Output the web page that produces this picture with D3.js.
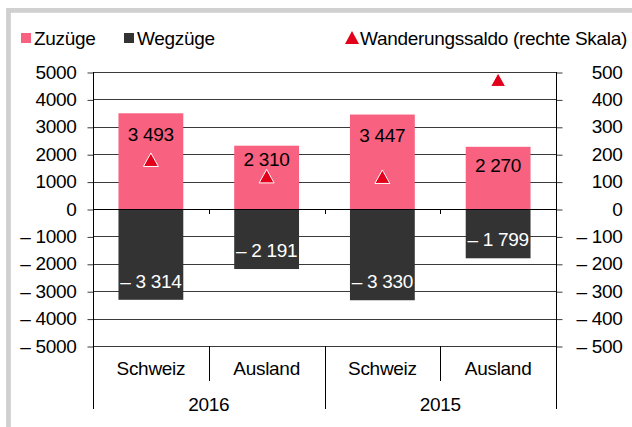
<!DOCTYPE html>
<html><head><meta charset="utf-8">
<script src="https://cdn.jsdelivr.net/npm/d3@7/dist/d3.min.js"></script>
<style>
html,body{margin:0;padding:0;background:#fff;}
svg{display:block;font-family:"Liberation Sans",Arial,sans-serif;}
text{font-size:19px;letter-spacing:-0.3px;fill:#000;}
</style></head>
<body>
<svg id="c" width="632" height="427"></svg>
<script>
// ---- data ----
const categories = ["Schweiz", "Ausland", "Schweiz", "Ausland"];
const years = ["2016", "2015"];
const zuzuege = [3493, 2310, 3447, 2270];
const wegzuege = [-3314, -2191, -3330, -1799];
const saldo = [179, 119, 117, 471];
const leftTicks = [5000, 4000, 3000, 2000, 1000, 0, -1000, -2000, -3000, -4000, -5000];
const rightTicks = [500, 400, 300, 200, 100, 0, -100, -200, -300, -400, -500];
const legendLabels = ["Zuzüge", "Wegzüge", "Wanderungssaldo (rechte Skala)"];

// ---- styles ----
const PINK = "#f8617f", DARK = "#333333", RED = "#e2001a";
const svg = d3.select("#c");
const L = 93, R = 556, T = 72, B = 346;

// frame
svg.append("rect").attr("x", 8.5).attr("y", 10.4).attr("width", 700).attr("height", 500)
  .attr("fill", "none").attr("stroke", "#d0d0d0").attr("stroke-width", 4.8);

const keys = categories.map((c, i) => i);
const x = d3.scaleBand().domain(keys).range([L, R]).paddingInner(0.44).paddingOuter(0.22);
const step = x.step();
const yL = d3.scaleLinear().domain([-5000, 5000]).range([B, T]);
const yR = d3.scaleLinear().domain([-500, 500]).range([B, T]);

const fmtTick = v => (v < 0 ? "\u2013 " : "") + Math.abs(v);
const loc = d3.formatLocale({decimal: ",", thousands: "\u2009", grouping: [3], currency: ["", ""]});
const g3 = loc.format(",d");
const fmtLab = v => (v < 0 ? "\u2013 " : "") + g3(Math.abs(v)).replace("\u2009", " ");

// gridlines
svg.append("g").selectAll("line").data(leftTicks).join("line")
  .attr("x1", L).attr("x2", R)
  .attr("y1", d => Math.round(yL(d)) + 0.5).attr("y2", d => Math.round(yL(d)) + 0.5)
  .attr("stroke", "#3a3a3a").attr("stroke-width", 1);

// bars
const bars = svg.append("g");
bars.selectAll("rect.z").data(zuzuege).join("rect").attr("class", "z")
  .attr("x", (d, i) => x(i)).attr("width", x.bandwidth())
  .attr("y", d => yL(d)).attr("height", d => yL(0) - yL(d)).attr("fill", PINK);
bars.selectAll("rect.w").data(wegzuege).join("rect").attr("class", "w")
  .attr("x", (d, i) => x(i)).attr("width", x.bandwidth())
  .attr("y", yL(0)).attr("height", d => yL(d) - yL(0)).attr("fill", DARK);

// zero line
svg.append("line").attr("x1", L).attr("x2", R)
  .attr("y1", Math.round(yL(0)) + 0.5).attr("y2", Math.round(yL(0)) + 0.5)
  .attr("stroke", "#000").attr("stroke-width", 1);

// ticks on zero line at category boundaries
svg.append("g").selectAll("line").data(d3.range(1, categories.length)).join("line")
  .attr("x1", i => Math.round(L + i * step) + 0.5).attr("x2", i => Math.round(L + i * step) + 0.5)
  .attr("y1", yL(0)).attr("y2", yL(0) + 5).attr("stroke", "#000");

// left axis
const axL = svg.append("g").attr("transform", `translate(${L + 0.5},0)`)
  .call(d3.axisLeft(yL).tickValues(leftTicks).tickFormat(fmtTick).tickSize(6).tickPadding(11));
axL.select(".domain").remove();
axL.selectAll("line").attr("stroke", "#3a3a3a").attr("transform", "translate(0,0.5)");
axL.selectAll("text").attr("font-size", 19).attr("font-family", "Liberation Sans, Arial, sans-serif").attr("fill", "#000");
svg.append("line").attr("x1", L + 0.5).attr("x2", L + 0.5).attr("y1", T).attr("y2", 409).attr("stroke", "#000");

// right axis
const axR = svg.append("g").attr("transform", `translate(${R + 0.5},0)`)
  .call(d3.axisRight(yR).tickValues(rightTicks).tickFormat(fmtTick).tickSize(6).tickPadding(11));
axR.select(".domain").remove();
axR.selectAll("line").attr("stroke", "#3a3a3a").attr("transform", "translate(0,0.5)");
axR.selectAll("text").attr("font-size", 19).attr("font-family", "Liberation Sans, Arial, sans-serif")
  .attr("fill", "#000").attr("text-anchor", "end").attr("x", 66);
svg.append("line").attr("x1", R + 0.5).attr("x2", R + 0.5).attr("y1", T).attr("y2", 409).attr("stroke", "#000");

// category axis at bottom
const bx = svg.append("g");
bx.selectAll("line.c").data(d3.range(1, categories.length)).join("line").attr("class", "c")
  .attr("x1", i => Math.round(L + i * step) + 0.5).attr("x2", i => Math.round(L + i * step) + 0.5)
  .attr("y1", B).attr("y2", i => (i % 2 === 0 ? 409 : 381)).attr("stroke", "#000");
bx.selectAll("text.c").data(categories).join("text").attr("class", "c")
  .attr("x", (d, i) => x(i) + x.bandwidth() / 2).attr("y", 375)
  .attr("text-anchor", "middle").text(d => d);
bx.selectAll("text.y").data(years).join("text").attr("class", "y")
  .attr("x", (d, i) => L + step * (2 * i + 1)).attr("y", 411)
  .attr("text-anchor", "middle").text(d => d);

// data labels (positive labels kept clear of the saldo triangle)
svg.append("g").selectAll("text").data(zuzuege).join("text")
  .attr("x", (d, i) => x(i) + x.bandwidth() / 2)
  .attr("y", (d, i) => {
    const top = yL(d) + 21, ty = yR(saldo[i]);
    return (ty > yL(d) && ty < yL(0)) ? Math.min(top, ty - 17) : top - 3;
  })
  .attr("dy", "0.36em").attr("text-anchor", "middle").text(d => fmtLab(d));
svg.append("g").selectAll("text").data(wegzuege).join("text")
  .attr("x", (d, i) => x(i) + x.bandwidth() / 2).attr("y", d => yL(d) - 19)
  .attr("dy", "0.36em").attr("text-anchor", "middle").style("fill", "#fff").text(d => fmtLab(d));

// triangles
const tri = "M0,-7L7.5,6.5L-7.5,6.5Z";
svg.append("g").selectAll("path").data(saldo).join("path")
  .attr("d", tri)
  .attr("transform", (d, i) => `translate(${x(i) + x.bandwidth() / 2},${yR(d)})`)
  .attr("fill", RED).attr("stroke", "#fff").attr("stroke-width", 1);

// legend
const lg = svg.append("g");
lg.append("rect").attr("x", 21).attr("y", 33).attr("width", 10).attr("height", 10).attr("fill", PINK);
lg.append("text").attr("x", 34).attr("y", 45).text(legendLabels[0]);
lg.append("rect").attr("x", 124).attr("y", 33).attr("width", 10).attr("height", 10).attr("fill", DARK);
lg.append("text").attr("x", 137).attr("y", 45).text(legendLabels[1]);
lg.append("path").attr("d", "M0,-6.5L7,6.5L-7,6.5Z").attr("transform", "translate(352,37.5)").attr("fill", RED);
lg.append("text").attr("x", 360).attr("y", 45).text(legendLabels[2]);
</script>
</body></html>
